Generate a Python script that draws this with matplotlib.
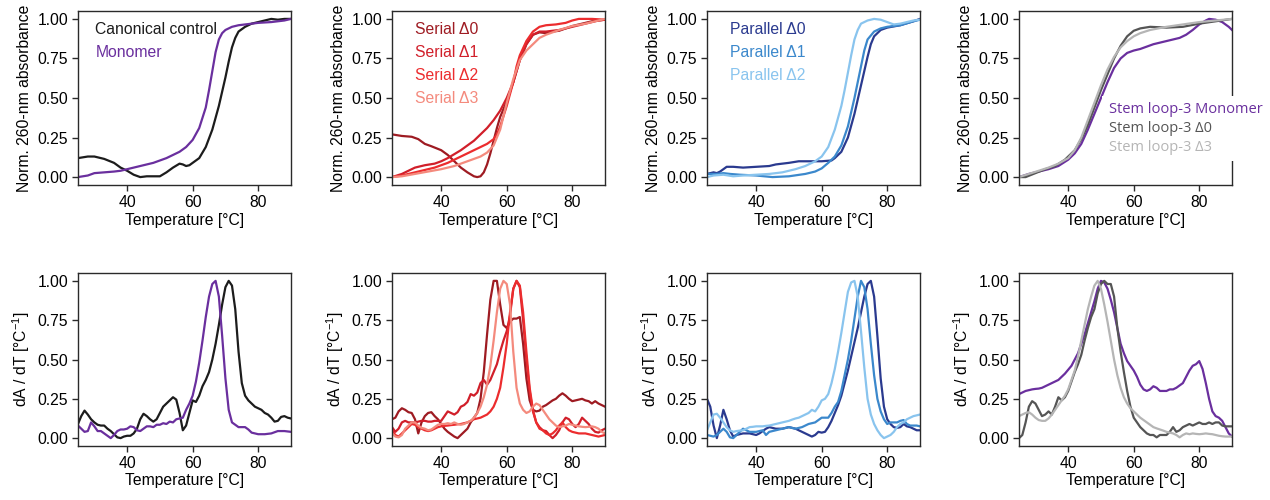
import matplotlib
matplotlib.use("Agg")
import matplotlib.pyplot as plt

plt.rcParams['font.family'] = ['Liberation Sans', 'DejaVu Sans']
plt.rcParams['mathtext.fontset'] = 'custom'
plt.rcParams['mathtext.rm'] = 'Liberation Sans'
plt.rcParams['mathtext.it'] = 'Liberation Sans:italic'
plt.rcParams['font.size'] = 11.3

# -------------------------
# Melting curves (normalised absorbance)
# -------------------------
t_ctrl = [25, 28, 30, 33, 36, 38, 40, 42, 44, 46, 48, 50, 52, 54, 56, 57, 58, 59, 60, 62, 64, 66, 68, 70, 71, 72, 73, 74, 76, 78, 80, 82, 84, 86, 88, 90]
a_ctrl = [0.12, 0.13, 0.13, 0.115, 0.09, 0.06, 0.04, 0.015, 0.0, 0.005, 0.005, 0.005, 0.03, 0.06, 0.085, 0.08, 0.07, 0.075, 0.09, 0.12, 0.19, 0.30, 0.45, 0.63, 0.73, 0.82, 0.88, 0.92, 0.95, 0.97, 0.98, 0.99, 1.0, 0.995, 1.0, 1.0]
t_mono = [25, 28, 30, 33, 36, 38, 40, 42, 44, 46, 48, 50, 52, 54, 56, 58, 60, 62, 64, 65, 66, 67, 68, 69, 70, 72, 74, 76, 78, 80, 84, 88, 90]
a_mono = [0.0, 0.01, 0.025, 0.03, 0.035, 0.04, 0.05, 0.06, 0.07, 0.08, 0.09, 0.105, 0.12, 0.14, 0.16, 0.19, 0.235, 0.31, 0.44, 0.55, 0.67, 0.79, 0.87, 0.91, 0.93, 0.95, 0.96, 0.965, 0.97, 0.975, 0.98, 0.99, 1.0]

t_s0 = [25, 28, 31, 33, 35, 37, 40, 42, 44, 46, 48, 50, 51, 52, 53, 54, 55, 56, 57, 58, 60, 62, 64, 66, 68, 70, 72, 74, 76, 78, 80, 83, 86, 90]
a_s0 = [0.27, 0.26, 0.255, 0.24, 0.21, 0.195, 0.17, 0.14, 0.10, 0.06, 0.03, 0.005, 0.0, 0.005, 0.03, 0.08, 0.15, 0.23, 0.31, 0.38, 0.48, 0.60, 0.74, 0.84, 0.90, 0.915, 0.91, 0.92, 0.925, 0.94, 0.955, 0.97, 0.985, 0.995]
t_s1 = [25, 28, 30, 32, 35, 38, 40, 42, 44, 46, 48, 50, 52, 54, 56, 58, 60, 62, 64, 66, 68, 70, 72, 76, 80, 84, 88, 90]
a_s1 = [0.0, 0.02, 0.04, 0.06, 0.075, 0.085, 0.10, 0.12, 0.145, 0.17, 0.20, 0.23, 0.27, 0.31, 0.36, 0.42, 0.50, 0.60, 0.74, 0.84, 0.90, 0.92, 0.92, 0.93, 0.95, 0.97, 0.99, 0.995]
t_s2 = [25, 28, 30, 34, 38, 42, 44, 46, 48, 50, 52, 54, 56, 57, 58, 60, 62, 63, 64, 66, 68, 70, 72, 75, 78, 80, 82, 86, 90]
a_s2 = [0.0, 0.01, 0.02, 0.04, 0.06, 0.09, 0.11, 0.13, 0.15, 0.17, 0.19, 0.21, 0.24, 0.27, 0.32, 0.45, 0.60, 0.70, 0.77, 0.86, 0.92, 0.95, 0.96, 0.965, 0.975, 0.99, 1.0, 1.0, 0.995]
t_s3 = [25, 28, 32, 36, 40, 44, 48, 52, 54, 56, 58, 60, 62, 64, 66, 68, 70, 72, 76, 80, 84, 88, 90]
a_s3 = [0.0, 0.005, 0.02, 0.035, 0.05, 0.07, 0.10, 0.13, 0.155, 0.20, 0.30, 0.47, 0.62, 0.74, 0.80, 0.84, 0.88, 0.90, 0.93, 0.955, 0.97, 0.99, 1.0]

t_p0 = [25, 27, 28, 29, 30, 31, 33, 36, 40, 44, 46, 50, 53, 56, 60, 63, 64, 66, 68, 70, 72, 74, 75, 76, 78, 80, 84, 88, 90]
a_p0 = [0.02, 0.03, 0.025, 0.035, 0.05, 0.065, 0.065, 0.06, 0.065, 0.07, 0.08, 0.09, 0.10, 0.10, 0.10, 0.105, 0.12, 0.16, 0.25, 0.40, 0.58, 0.76, 0.84, 0.89, 0.93, 0.945, 0.96, 0.985, 1.0]
t_p1 = [25, 28, 30, 32, 35, 40, 45, 50, 55, 58, 60, 62, 64, 66, 68, 70, 72, 73, 74, 76, 78, 80, 84, 88, 90]
a_p1 = [0.02, 0.02, 0.025, 0.02, 0.015, 0.01, 0.0, 0.005, 0.02, 0.035, 0.055, 0.09, 0.13, 0.20, 0.32, 0.50, 0.70, 0.80, 0.87, 0.92, 0.94, 0.95, 0.96, 0.985, 0.995]
t_p2 = [25, 27, 30, 33, 36, 40, 44, 48, 52, 55, 58, 60, 62, 64, 66, 67, 68, 69, 70, 71, 72, 74, 76, 78, 80, 82, 84, 88, 90]
a_p2 = [0.0, 0.01, 0.015, 0.005, 0.01, 0.015, 0.02, 0.03, 0.05, 0.07, 0.10, 0.13, 0.19, 0.30, 0.45, 0.55, 0.66, 0.77, 0.87, 0.93, 0.97, 0.99, 1.0, 0.995, 0.98, 0.965, 0.97, 0.99, 0.995]

t_sm = [25, 28, 31, 34, 37, 40, 42, 44, 46, 48, 50, 52, 54, 56, 58, 60, 62, 64, 66, 68, 70, 72, 74, 76, 78, 80, 82, 83, 85, 87, 89, 90]
a_sm = [0.0, 0.02, 0.035, 0.05, 0.07, 0.11, 0.15, 0.21, 0.30, 0.40, 0.50, 0.60, 0.69, 0.75, 0.785, 0.80, 0.81, 0.825, 0.84, 0.85, 0.86, 0.87, 0.88, 0.90, 0.93, 0.965, 0.99, 1.0, 0.995, 0.98, 0.95, 0.93]
t_sl0 = [25, 27, 30, 33, 36, 39, 42, 44, 46, 48, 50, 52, 54, 56, 58, 60, 62, 65, 70, 75, 80, 85, 90]
a_sl0 = [0.0, 0.0, 0.025, 0.05, 0.07, 0.11, 0.17, 0.24, 0.33, 0.44, 0.55, 0.65, 0.75, 0.83, 0.89, 0.925, 0.94, 0.95, 0.945, 0.95, 0.97, 0.985, 1.0]
t_sl3 = [25, 28, 31, 34, 37, 40, 42, 44, 46, 48, 50, 52, 54, 56, 58, 60, 62, 65, 70, 75, 80, 85, 90]
a_sl3 = [0.0, 0.02, 0.04, 0.06, 0.085, 0.12, 0.17, 0.25, 0.36, 0.47, 0.58, 0.68, 0.76, 0.82, 0.86, 0.89, 0.91, 0.93, 0.95, 0.965, 0.98, 0.99, 1.0]

# -------------------------
# First derivatives (normalised dA/dT)
# -------------------------
T1 = list(range(25, 91))
d_ctrl = [0.09, 0.14, 0.175, 0.15, 0.12, 0.10, 0.085, 0.08, 0.08, 0.06, 0.045, 0.025, 0.005, 0.0, 0.01, 0.015,
          0.015, 0.03, 0.06, 0.12, 0.155, 0.14, 0.12, 0.105, 0.12, 0.16, 0.20, 0.22, 0.24, 0.26, 0.245, 0.16,
          0.05, 0.08, 0.16, 0.24, 0.23, 0.27, 0.33, 0.37, 0.42, 0.50, 0.60, 0.72, 0.85, 0.96, 1.0, 0.97,
          0.82, 0.55, 0.35, 0.27, 0.24, 0.22, 0.20, 0.19, 0.18, 0.16, 0.15, 0.13, 0.105, 0.11, 0.135, 0.14,
          0.13, 0.125]
t_dmono = list(range(25, 81)) + [82, 84, 86, 88, 90]
d_mono = [0.08, 0.06, 0.04, 0.045, 0.10, 0.075, 0.045, 0.045, 0.03, 0.015, 0.0, 0.02, 0.045, 0.055, 0.055, 0.06,
          0.075, 0.07, 0.05, 0.045, 0.06, 0.075, 0.075, 0.07, 0.085, 0.085, 0.095, 0.09, 0.105, 0.10, 0.12, 0.125,
          0.13, 0.18, 0.22, 0.27, 0.36, 0.48, 0.62, 0.77, 0.90, 0.98, 1.0, 0.90, 0.65, 0.38, 0.18, 0.10,
          0.085, 0.07, 0.07, 0.07, 0.055, 0.035, 0.03, 0.025, 0.025, 0.03, 0.045, 0.045, 0.04]

d_s0 = [0.12, 0.13, 0.17, 0.19, 0.18, 0.165, 0.16, 0.12, 0.03, 0.10, 0.14, 0.16, 0.165, 0.14, 0.12, 0.09,
        0.06, 0.04, 0.025, 0.01, 0.0, 0.02, 0.04, 0.06, 0.10, 0.13, 0.16, 0.25, 0.42, 0.66, 0.88, 1.0,
        1.0, 0.85, 0.72, 0.70, 0.74, 0.76, 0.76, 0.77, 0.60, 0.38, 0.24, 0.18, 0.17, 0.175, 0.20, 0.21,
        0.225, 0.24, 0.25, 0.27, 0.285, 0.27, 0.25, 0.235, 0.24, 0.245, 0.25, 0.24, 0.235, 0.22, 0.235, 0.22,
        0.21, 0.20]
d_s1 = [0.07, 0.04, 0.06, 0.10, 0.11, 0.10, 0.10, 0.10, 0.105, 0.11, 0.11, 0.105, 0.105, 0.11, 0.11, 0.11,
        0.14, 0.17, 0.16, 0.15, 0.165, 0.20, 0.21, 0.23, 0.28, 0.27, 0.29, 0.35, 0.37, 0.34, 0.37, 0.42,
        0.47, 0.55, 0.62, 0.68, 0.78, 0.95, 1.0, 0.96, 0.75, 0.50, 0.30, 0.17, 0.10, 0.07, 0.05, 0.045,
        0.02, 0.0, 0.02, 0.05, 0.10, 0.13, 0.12, 0.09, 0.07, 0.09, 0.13, 0.11, 0.09, 0.06, 0.04, 0.035,
        0.05, 0.06]
d_s2 = [0.05, 0.02, 0.01, 0.03, 0.05, 0.07, 0.09, 0.085, 0.07, 0.06, 0.05, 0.045, 0.05, 0.06, 0.07, 0.075,
        0.078, 0.08, 0.083, 0.085, 0.088, 0.09, 0.095, 0.10, 0.11, 0.12, 0.125, 0.13, 0.14, 0.15, 0.17, 0.20,
        0.25, 0.32, 0.45, 0.60, 0.80, 0.95, 1.0, 0.97, 0.80, 0.55, 0.32, 0.18, 0.10, 0.06, 0.05, 0.03,
        0.02, 0.03, 0.05, 0.08, 0.10, 0.07, 0.05, 0.04, 0.035, 0.03, 0.03, 0.03, 0.025, 0.02, 0.015, 0.01,
        0.015, 0.02]
d_s3 = [0.03, 0.01, 0.005, 0.02, 0.06, 0.08, 0.10, 0.10, 0.08, 0.065, 0.06, 0.05, 0.055, 0.07, 0.085, 0.09,
        0.09, 0.095, 0.09, 0.10, 0.09, 0.085, 0.09, 0.10, 0.11, 0.13, 0.16, 0.20, 0.26, 0.34, 0.46, 0.62,
        0.80, 0.95, 1.0, 0.98, 0.85, 0.55, 0.32, 0.22, 0.18, 0.16, 0.17, 0.20, 0.22, 0.21, 0.18, 0.15,
        0.12, 0.10, 0.08, 0.07, 0.075, 0.08, 0.09, 0.085, 0.08, 0.075, 0.072, 0.07, 0.072, 0.075, 0.07, 0.06,
        0.04, 0.03]

d_p0 = [0.25, 0.20, 0.08, 0.0, 0.08, 0.18, 0.12, 0.05, 0.01, 0.02, 0.025, 0.03, 0.03, 0.03, 0.025, 0.02,
        0.03, 0.045, 0.06, 0.07, 0.065, 0.06, 0.06, 0.06, 0.065, 0.07, 0.065, 0.06, 0.05, 0.04, 0.03, 0.02,
        0.01, 0.02, 0.04, 0.035, 0.04, 0.07, 0.11, 0.16, 0.21, 0.27, 0.35, 0.43, 0.52, 0.61, 0.70, 0.80,
        0.90, 0.98, 1.0, 0.90, 0.65, 0.38, 0.20, 0.12, 0.09, 0.07, 0.065, 0.07, 0.09, 0.075, 0.07, 0.06,
        0.05, 0.05]
d_p1 = [0.02, 0.015, 0.01, 0.02, 0.04, 0.06, 0.04, 0.005, 0.0, 0.02, 0.04, 0.06, 0.05, 0.04, 0.04, 0.04,
        0.045, 0.05, 0.02, 0.04, 0.045, 0.05, 0.055, 0.06, 0.065, 0.07, 0.065, 0.06, 0.065, 0.07, 0.08, 0.09,
        0.095, 0.10, 0.115, 0.13, 0.13, 0.13, 0.16, 0.20, 0.23, 0.30, 0.40, 0.50, 0.62, 0.76, 0.90, 1.0,
        0.96, 0.82, 0.60, 0.40, 0.25, 0.17, 0.12, 0.09, 0.10, 0.10, 0.10, 0.11, 0.115, 0.09, 0.08, 0.08,
        0.08, 0.075]
d_p2 = [0.05, 0.10, 0.15, 0.155, 0.13, 0.10, 0.07, 0.05, 0.04, 0.045, 0.048, 0.05, 0.06, 0.07, 0.072, 0.075,
        0.075, 0.075, 0.078, 0.08, 0.085, 0.09, 0.095, 0.10, 0.105, 0.11, 0.118, 0.125, 0.13, 0.14, 0.15, 0.16,
        0.18, 0.17, 0.20, 0.24, 0.25, 0.28, 0.35, 0.44, 0.55, 0.67, 0.80, 0.93, 0.99, 1.0, 0.90, 0.68,
        0.45, 0.25, 0.15, 0.09, 0.05, 0.02, 0.0, 0.01, 0.02, 0.04, 0.07, 0.09, 0.10, 0.12, 0.13, 0.14,
        0.145, 0.15]

d_sm = [0.28, 0.29, 0.30, 0.305, 0.31, 0.313, 0.315, 0.32, 0.33, 0.34, 0.35, 0.36, 0.37, 0.39, 0.41, 0.435,
        0.46, 0.50, 0.54, 0.60, 0.66, 0.73, 0.80, 0.87, 0.95, 1.0, 0.99, 0.95, 0.88, 0.80, 0.70, 0.60,
        0.54, 0.49, 0.46, 0.43, 0.39, 0.34, 0.31, 0.30, 0.31, 0.33, 0.32, 0.30, 0.30, 0.30, 0.31, 0.31,
        0.32, 0.335, 0.35, 0.39, 0.43, 0.46, 0.47, 0.49, 0.44, 0.35, 0.25, 0.17, 0.14, 0.13, 0.11, 0.07,
        0.03, 0.01]
d_sl0 = [0.0, 0.02, 0.10, 0.20, 0.235, 0.22, 0.18, 0.14, 0.15, 0.17, 0.15, 0.20, 0.26, 0.24, 0.26, 0.30,
         0.36, 0.42, 0.47, 0.53, 0.62, 0.70, 0.77, 0.82, 0.92, 0.98, 1.0, 0.98, 0.98, 0.90, 0.70, 0.55,
         0.42, 0.30, 0.20, 0.13, 0.10, 0.07, 0.05, 0.03, 0.02, 0.02, 0.005, 0.02, 0.02, 0.02, 0.04, 0.07,
         0.04, 0.05, 0.07, 0.08, 0.09, 0.08, 0.09, 0.10, 0.09, 0.09, 0.10, 0.09, 0.10, 0.10, 0.08, 0.075,
         0.075, 0.075]
d_sl3 = [0.14, 0.15, 0.16, 0.165, 0.15, 0.13, 0.115, 0.11, 0.11, 0.125, 0.15, 0.18, 0.21, 0.24, 0.27, 0.31,
         0.37, 0.43, 0.52, 0.62, 0.72, 0.82, 0.90, 0.97, 1.0, 0.95, 0.85, 0.74, 0.62, 0.50, 0.40, 0.32,
         0.26, 0.22, 0.19, 0.17, 0.15, 0.13, 0.115, 0.10, 0.085, 0.07, 0.062, 0.055, 0.048, 0.04, 0.035, 0.03,
         0.02, 0.005, 0.02, 0.03, 0.025, 0.03, 0.027, 0.025, 0.027, 0.03, 0.027, 0.025, 0.02, 0.015, 0.012, 0.01,
         0.01, 0.01]

# -------------------------
# Colours and labels
# -------------------------
BLACK = '#1c1c1c'
PURPLE = '#6a2f9e'
SERIAL = ['#9e1b22', '#d11f2a', '#ec2c2e', '#f48a7d']
PARALLEL = ['#2a3a8f', '#3b88cc', '#89c4ee']
STEM = ['#6a2f9e', '#555555', '#b5b5b5']

panels = [
    [(t_ctrl, a_ctrl, T1, d_ctrl, BLACK, 'Canonical control'),
     (t_mono, a_mono, t_dmono, d_mono, PURPLE, 'Monomer')],
    [(t_s0, a_s0, T1, d_s0, SERIAL[0], 'Serial Δ0'),
     (t_s1, a_s1, T1, d_s1, SERIAL[1], 'Serial Δ1'),
     (t_s2, a_s2, T1, d_s2, SERIAL[2], 'Serial Δ2'),
     (t_s3, a_s3, T1, d_s3, SERIAL[3], 'Serial Δ3')],
    [(t_p0, a_p0, T1, d_p0, PARALLEL[0], 'Parallel Δ0'),
     (t_p1, a_p1, T1, d_p1, PARALLEL[1], 'Parallel Δ1'),
     (t_p2, a_p2, T1, d_p2, PARALLEL[2], 'Parallel Δ2')],
    [(t_sm, a_sm, T1, d_sm, STEM[0], 'Stem loop-3 Monomer'),
     (t_sl0, a_sl0, T1, d_sl0, STEM[1], 'Stem loop-3 Δ0'),
     (t_sl3, a_sl3, T1, d_sl3, STEM[2], 'Stem loop-3 Δ3')],
]

# -------------------------
# Plot
# -------------------------
fig = plt.figure(figsize=(12.7, 5), dpi=100)
lefts = [0.0614, 0.3087, 0.5567, 0.8024]
W = 0.1677
leg_x = [0.03, 0.055, 0.055]


def style(ax, ylabel):
    ax.set_xlim(25, 90)
    ax.set_ylim(-0.05, 1.05)
    ax.set_xticks([40, 60, 80])
    ax.set_yticks([0, 0.25, 0.5, 0.75, 1.0])
    ax.set_yticklabels(['0.00', '0.25', '0.50', '0.75', '1.00'])
    ax.set_xlabel('Temperature [°C]', labelpad=2)
    ax.set_ylabel(ylabel, labelpad=4)
    for s in ax.spines.values():
        s.set_color('#2a2a2a')
        s.set_linewidth(1.0)
    ax.tick_params(color='#2a2a2a', length=4, width=1.0, pad=3)


for i, series in enumerate(panels):
    ax_top = fig.add_axes([lefts[i], 0.630, W, 0.348])
    ax_bot = fig.add_axes([lefts[i], 0.108, W, 0.346])
    for ta, a, td, d, c, lab in series:
        ax_top.plot(ta, a, color=c, lw=1.6, label=lab)
        ax_bot.plot(td, d, color=c, lw=1.6)
    style(ax_top, 'Norm. 260-nm absorbance')
    style(ax_bot, 'dA / dT [°C$^{-1}$]')

    if i < 3:
        leg = ax_top.legend(loc='upper left', bbox_to_anchor=(leg_x[i], 1.0), frameon=False,
                            handlelength=0, handletextpad=0, labelcolor='linecolor',
                            borderaxespad=0.3)
    else:
        leg = ax_top.legend(loc='center left', bbox_to_anchor=(0.355, 0.325), frameon=True,
                            facecolor='white', edgecolor='none', framealpha=1, fancybox=False,
                            handlelength=0, handletextpad=0, labelcolor='linecolor',
                            borderpad=0.45, labelspacing=0.25,
                            prop={'family': 'Open Sans', 'size': 10.5})
    for h in leg.legend_handles:
        h.set_visible(False)

fig.savefig('out.png', dpi=100)
